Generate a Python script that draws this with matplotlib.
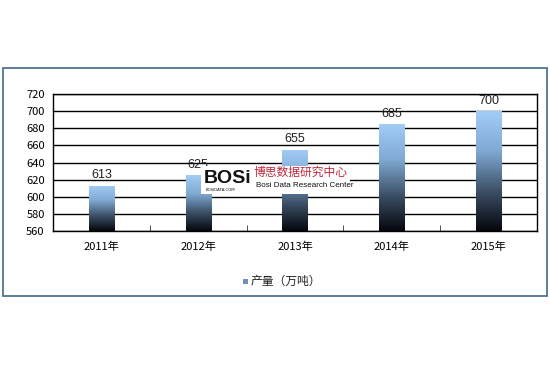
"""Bar chart of annual output with vertical gradient bars."""

import matplotlib.pyplot as plt
import numpy as np
from matplotlib.colors import LinearSegmentedColormap
from matplotlib.patches import Rectangle

plt.rcParams["font.family"] = ["Noto Sans CJK SC", "DejaVu Sans"]

YEARS = ["2011年", "2012年", "2013年", "2014年", "2015年"]
OUTPUT = [613, 625, 655, 685, 700]
SERIES_NAME = "产量（万吨）"
Y_MIN, Y_MAX, Y_STEP = 560, 720, 20

BAR_WIDTH = 0.26
GRADIENT = LinearSegmentedColormap.from_list(
    "bar", ["#05060c", "#3c5066", "#7fa9d2", "#a2cdf7"]
)
NARROW = ["Liberation Sans Narrow", "Liberation Sans", "DejaVu Sans"]

figure = plt.figure(figsize=(5.5, 3.66), dpi=100)
axis = figure.add_axes([0.0964, 0.369, 0.88, 0.374])

# outer chart frame
figure.patches.append(
    Rectangle(
        (0.005, 0.19), 0.99, 0.624,
        transform=figure.transFigure, fill=False,
        edgecolor="#4f7394", linewidth=1.3,
    )
)

positions = np.arange(len(YEARS))
bars = axis.bar(positions, OUTPUT, width=BAR_WIDTH, bottom=0,
                color="none", edgecolor="none", zorder=3)
shade = np.linspace(0, 1, 256).reshape(-1, 1)
for bar, value in zip(bars, OUTPUT):
  x0 = bar.get_x()
  image = axis.imshow(
      shade, cmap=GRADIENT, origin="lower", aspect="auto",
      extent=(x0, x0 + BAR_WIDTH, Y_MIN, value), zorder=3,
  )
  image.set_clip_path(bar)
  axis.text(bar.get_x() + BAR_WIDTH / 2, value + 5, f"{value}",
            ha="center", va="bottom", fontsize=9,
            family=["Liberation Sans", "DejaVu Sans"],
            color="#222222", zorder=4)

axis.set_xlim(-0.5, len(YEARS) - 0.5)
axis.set_ylim(Y_MIN, Y_MAX)
axis.set_yticks(np.arange(Y_MIN, Y_MAX + 1, Y_STEP))
axis.tick_params(axis="y", length=0, labelsize=8, pad=6)
axis.set_xticks(positions)
axis.set_xticklabels(YEARS, fontsize=8)
axis.tick_params(axis="x", length=0, pad=8)
axis.set_xticks(np.arange(0.5, len(YEARS) - 0.5, 1.0), minor=True)
axis.tick_params(axis="x", which="minor", direction="in", length=4,
                 color="#333333")
axis.grid(axis="y", color="black", linewidth=1.0, zorder=1)
axis.set_axisbelow(True)
for spine in axis.spines.values():
  spine.set_color("black")
  spine.set_linewidth(1.0)

# legend
figure.patches.append(
    Rectangle((0.442, 0.225), 0.009, 0.013, transform=figure.transFigure,
              facecolor="#6f93b8", edgecolor="none")
)
figure.text(0.455, 0.232, SERIES_NAME, fontsize=8.5, va="center",
            ha="left", color="#222222")

# watermark
figure.patches.append(
    Rectangle((0.365, 0.47), 0.271, 0.076, transform=figure.transFigure,
              facecolor="white", edgecolor="none", zorder=5)
)
figure.text(0.370, 0.511, "BOSi", fontsize=14, weight="bold",
            family=NARROW, color="#111111", va="center", zorder=6)
figure.text(0.374, 0.481, "BOSIDATA.COM", fontsize=2.8, family="DejaVu Sans",
            color="#111111", va="center", zorder=6)
figure.text(0.461, 0.530, "博思数据研究中心", fontsize=8.5, color="#c0283a",
            va="center", zorder=6)
figure.text(0.465, 0.494, "Bosi Data Research Center", fontsize=5.8,
            family=NARROW, color="#111111", va="center", zorder=6)

figure.savefig("out.png", dpi=100)
